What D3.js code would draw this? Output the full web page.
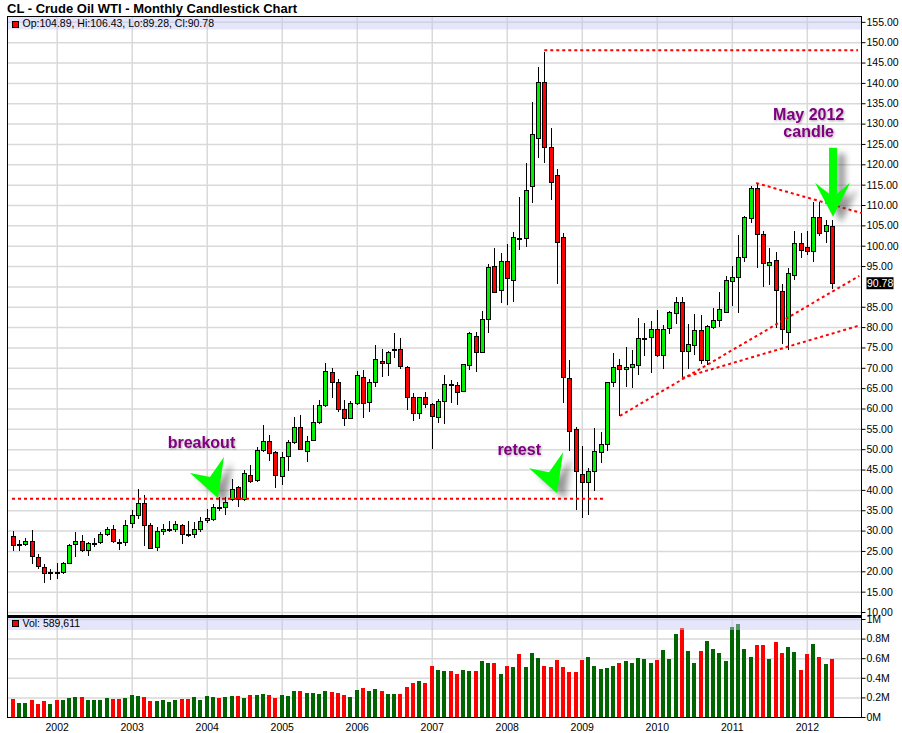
<!DOCTYPE html>
<html><head><meta charset="utf-8">
<script src="https://cdn.jsdelivr.net/npm/d3@7"></script>
<style>
body{margin:0;background:#fff}
svg{display:block}
text{font-family:"Liberation Sans",Arial,Helvetica,sans-serif}
</style>
</head><body>
<svg id="c" width="902" height="733"></svg>
<script>
// ---------------- DATA (monthly, Jun 2001 .. May 2012) ----------------
const firstYear = 2001, firstMonth = 6;
const opens = [
 28.7,26.4,26.7,27.4,23.4,21.1,19.6,
 19.8,19.75,22.0,26.7,27.4,25.3,27.0,27.2,29.1,30.5,27.1,27.1,
 31.8,33.8,36.7,31.3,26.0,29.8,30.3,30.5,31.3,29.0,29.1,30.4,
 32.6,32.9,35.9,35.7,37.8,40.7,37.8,43.7,42.4,49.8,52.0,49.2,
 43.4,48.3,51.8,55.4,49.5,52.3,56.6,60.8,68.9,66.6,59.8,57.6,
 61.3,67.8,61.7,66.4,71.7,71.3,74.3,74.5,70.3,62.9,58.8,62.9,
 61.0,57.9,61.8,66.0,65.7,64.4,70.7,77.8,74.0,81.9,95.1,89.0,
 96.2,91.6,102.0,101.9,114.7,126.4,140.3,124.2,117.3,102.1,67.4,54.9,
 43.8,41.9,44.6,49.2,51.2,66.6,70.6,69.6,70.1,70.6,77.2,77.5,
 79.6,73.1,79.9,83.4,86.2,74.1,75.5,79.3,71.9,80.0,81.7,83.8,
 91.4,92.2,97.2,106.7,114.1,102.8,95.2,96.5,88.8,78.8,92.7,100.6,
 99.8,98.6,107.0,103.5,104.89];
const highs = [
 30.0,27.7,28.3,30.1,24.3,21.9,20.5,
 22.1,22.2,26.6,29.7,28.8,27.3,28.3,29.7,31.0,31.3,27.9,32.7,
 35.0,40.1,38.7,31.8,30.9,31.6,32.4,32.3,31.7,32.4,32.0,33.3,
 35.2,36.6,38.2,38.2,42.6,41.0,44.8,46.0,50.6,55.9,53.5,49.6,
 49.3,52.2,57.8,58.4,53.3,60.9,62.1,71.2,69.9,67.3,62.1,61.9,
 69.3,69.5,67.3,75.6,74.5,74.2,78.5,77.2,70.4,63.9,62.6,64.0,
 61.3,62.3,68.2,67.0,66.6,71.0,78.8,78.8,84.0,95.4,99.4,98.3,
 100.4,103.4,112.0,120.2,135.4,144.0,147.7,129.0,118.9,103.0,71.9,55.5,
 50.8,45.5,55.1,54.3,66.6,73.7,72.1,75.2,74.4,82.2,81.1,81.5,
 84.2,80.5,83.9,87.5,87.5,80.8,83.1,82.9,80.6,84.6,88.7,92.5,
 95.0,102.6,107.3,114.7,115.5,103.5,99.4,98.4,90.5,94.5,103.6,103.0,
 103.5,110.8,110.8,106.3,106.43];
const lows = [
 25.1,25.1,26.1,21.8,20.5,17.2,17.8,
 18.1,19.3,21.7,23.5,24.7,23.8,25.9,26.6,28.6,26.9,25.2,26.3,
 30.6,32.9,26.3,25.5,25.1,28.8,29.6,29.7,26.7,28.5,28.2,29.6,
 31.8,32.4,34.8,33.8,37.2,35.8,37.2,41.6,42.0,49.2,47.0,40.4,
 41.3,44.7,51.4,49.8,46.9,52.0,56.2,60.3,62.5,59.2,55.7,57.3,
 60.8,57.6,59.2,65.3,67.8,68.0,72.5,69.8,59.6,57.0,57.3,60.2,
 50.0,56.4,56.3,61.4,60.9,64.0,69.5,68.9,73.9,78.5,88.5,86.0,
 85.4,86.2,98.9,99.6,110.4,121.6,120.4,111.2,90.6,61.4,49.5,35.1,
 33.0,33.8,39.7,46.7,49.5,65.2,58.2,65.2,65.0,68.2,72.9,68.7,
 72.6,69.6,78.4,80.8,67.4,69.6,73.1,70.9,70.8,79.5,80.1,83.6,
 85.2,83.5,96.0,105.5,94.6,89.8,90.3,79.7,75.8,74.4,91.5,96.9,
 97.7,96.0,102.4,100.7,89.28];
const closes = [
 26.4,26.6,27.4,23.7,21.2,19.5,19.8,
 19.6,22.0,26.4,27.4,25.3,26.9,27.05,29.1,30.5,27.4,26.9,31.3,
 33.8,36.7,31.3,25.7,29.9,30.3,30.5,31.6,29.2,29.1,30.5,32.4,
 33.0,35.9,35.7,37.0,40.2,37.7,44.1,42.3,49.8,52.0,49.1,43.7,
 48.2,51.8,55.5,50.0,52.1,56.6,60.8,69.2,66.4,59.8,57.6,61.3,
 68.2,61.4,66.6,72.1,71.3,74.0,74.5,70.4,62.9,58.8,62.9,61.2,
 58.2,61.8,65.9,65.8,64.1,70.9,78.5,74.0,81.9,94.7,88.7,96.2,
 92.0,102.1,101.8,113.7,127.4,140.1,124.2,115.6,100.9,67.8,54.5,44.7,
 41.9,44.7,49.6,51.2,66.4,70.1,69.6,70.1,70.9,77.3,77.4,79.5,
 73.1,79.6,83.8,86.2,74.1,75.8,79.3,71.9,80.3,81.7,84.4,91.6,
 92.4,97.2,107.0,114.1,102.8,95.7,95.9,89.0,79.5,93.2,100.6,98.9,
 98.6,107.1,103.0,105.0,90.78];
// volume in thousands of contracts
const volumes = [
 184,143,143,173,133,163,133,
 173,173,194,204,204,173,173,173,194,184,184,194,
 224,214,204,163,163,173,153,173,184,184,204,173,
 214,204,194,204,214,214,194,224,224,235,224,194,
 224,214,265,265,245,245,235,265,255,245,224,204,
 276,296,265,286,265,235,235,235,306,347,367,347,
 520,480,469,469,439,480,469,469,571,551,551,439,
 520,510,643,510,653,602,520,510,582,510,459,459,
 582,612,520,490,500,520,551,571,551,602,592,551,
 582,684,592,847,905,673,551,673,776,694,653,571,
 922,949,694,612,735,735,592,765,653,714,663,480,
 643,745,612,541,589.611];
const yearLabels = ["2002","2003","2004","2005","2006","2007","2008","2009","2010","2011","2012"];
const priceTicks = d3.range(10, 156, 5);
const volTicks = [0, 200, 400, 600, 800, 1000];
// annotation lines: [monthIndex, price] pairs
const supportLine = [[-0.15, 37.8], [94.4, 37.8]];
const topLine = [[85, 148.0], [135.2, 148.0]];
const upperTrend = [[118.9, 115.4], [135.8, 108.0]];
const steepTrend = [[97.1, 58.2], [135.4, 92.6]];
const flatTrend = [[107.05, 67.5], [135.2, 80.3]];

// ---------------- LAYOUT ----------------
const L = 7, R = 861.5, PT = 16.5, PB = 616, VB = 717;
const svg = d3.select("#c");
const x = d3.scaleLinear().domain([-0.95, 135.75]).range([L, R]);
const y = d3.scaleLinear().domain([10, 155]).range([612, 21.85]);
const yv = d3.scaleLinear().domain([0, 1000]).range([VB, 619]);
const yearIdx = yearLabels.map(s => (+s - firstYear) * 12 - (firstMonth - 1));
const n = closes.length;
const idx = d3.range(n);
const FS = 10.5;
const last = n - 1;
const fmt = d3.format(".2f");

const defs = svg.append("defs");
const sh = defs.append("filter").attr("id","ash").attr("x","-50%").attr("y","-50%").attr("width","200%").attr("height","200%");
sh.append("feGaussianBlur").attr("stdDeviation", 3);
const ts = defs.append("filter").attr("id","tsh").attr("x","-20%").attr("y","-40%").attr("width","140%").attr("height","180%");
ts.append("feGaussianBlur").attr("in","SourceAlpha").attr("stdDeviation",0.8).attr("result","b");
ts.append("feOffset").attr("in","b").attr("dx",1.2).attr("dy",1.2).attr("result","o");
ts.append("feComponentTransfer").attr("in","o").attr("result","o2").append("feFuncA").attr("type","linear").attr("slope",0.35);
const tm = ts.append("feMerge"); tm.append("feMergeNode").attr("in","o2"); tm.append("feMergeNode").attr("in","SourceGraphic");

// ---------------- GRID ----------------
const gridCol = "#d9d9d9";
svg.append("g").attr("transform", `translate(${R},0)`)
  .call(d3.axisLeft(y).tickValues(priceTicks).tickSize(R - L).tickFormat(""))
  .call(g => { g.select(".domain").remove(); g.selectAll("line").attr("stroke", gridCol).attr("stroke-width", 1.5); });
svg.append("g").attr("transform", `translate(${R},0)`)
  .call(d3.axisLeft(yv).tickValues(volTicks.slice(1)).tickSize(R - L).tickFormat(""))
  .call(g => { g.select(".domain").remove(); g.selectAll("line").attr("stroke", gridCol).attr("stroke-width", 1.5); });
svg.append("g").attr("transform", `translate(0,${VB})`)
  .call(d3.axisBottom(x).tickValues(yearIdx).tickSize(-(VB - PT)).tickFormat(""))
  .call(g => { g.select(".domain").remove(); g.selectAll("line").attr("stroke", gridCol).attr("stroke-width", 1.5); });

// ---------------- CANDLES ----------------
const cg = svg.append("g").attr("shape-rendering", "crispEdges");
idx.forEach(i => {
  const px = Math.round(x(i));
  cg.append("line").attr("x1", px + 0.5).attr("x2", px + 0.5)
    .attr("y1", y(highs[i])).attr("y2", y(lows[i])).attr("stroke", "#000").attr("stroke-width", 1);
  const top = Math.round(y(Math.max(opens[i], closes[i])));
  const bot = Math.round(y(Math.min(opens[i], closes[i])));
  const up = closes[i] >= opens[i];
  cg.append("rect").attr("x", px - 1.5).attr("y", top + 0.5)
    .attr("width", 4).attr("height", Math.max(1, bot - top))
    .attr("fill", up ? "#00ee00" : "#ff0000").attr("stroke", "#000").attr("stroke-width", 1);
});

// ---------------- VOLUME ----------------
const vg = svg.append("g").attr("shape-rendering", "crispEdges");
idx.forEach(i => {
  const px = Math.round(x(i));
  const prev = i === 0 ? opens[0] : closes[i - 1];
  const top = yv(volumes[i]);
  vg.append("rect").attr("x", px - 2).attr("y", top).attr("width", 4).attr("height", VB - top)
    .attr("fill", closes[i] >= prev ? "#006400" : "#ff0000");
});

// ---------------- LEGEND BANDS ----------------
svg.append("rect").attr("x", L).attr("y", PT).attr("width", R - L).attr("height", 13)
  .attr("fill", "#c8c8f5").attr("fill-opacity", 0.45);
svg.append("rect").attr("x", L).attr("y", 617.5).attr("width", R - L).attr("height", 12.5)
  .attr("fill", "#c8c8f5").attr("fill-opacity", 0.45);

// ---------------- BORDERS ----------------
const bg = svg.append("g").attr("stroke", "#000").attr("shape-rendering", "crispEdges");
bg.append("line").attr("x1", L).attr("x2", L).attr("y1", PT).attr("y2", VB);
bg.append("line").attr("x1", R).attr("x2", R).attr("y1", PT).attr("y2", VB);
bg.append("line").attr("x1", L).attr("x2", R).attr("y1", PT).attr("y2", PT);
bg.append("line").attr("x1", L).attr("x2", R).attr("y1", VB).attr("y2", VB);
bg.append("line").attr("x1", L).attr("x2", R).attr("y1", 616.5).attr("y2", 616.5).attr("stroke-width", 2.5);

// ---------------- DOTTED LINES ----------------
const line = d3.line().x(d => x(d[0])).y(d => y(d[1]));
[supportLine, topLine, upperTrend, steepTrend, flatTrend].forEach(l => {
  svg.append("path").attr("d", line(l)).attr("fill", "none").attr("stroke", "#ff0000")
    .attr("stroke-width", 2).attr("stroke-dasharray", "3,3");
});

// ---------------- ANNOTATIONS ----------------
const purple = "#800080";
function arrow(tx, ty, pts) {
  const p = "M" + pts.map(d => [tx + d[0], ty + d[1]].join(",")).join("L") + "Z";
  svg.append("path").attr("d", p).attr("transform", "translate(8,6)").attr("fill", "#444").attr("opacity", 0.55).attr("filter", "url(#ash)");
  svg.append("path").attr("d", p).attr("fill", "#00ff00");
}
const downArrow = [[-4,-69],[4,-69],[4,-23],[17,-34],[0,0],[-18,-34],[-4,-23]];
const headArrow = [[0,0],[-28,-25],[-8,-21],[6,-41]];
arrow(x(131.2), y(107.1), downArrow);
arrow(x(32.8), y(38.0), headArrow);
arrow(x(87.05), y(39.2), headArrow);

function note(txt, i, p, anchor) {
  svg.append("text").attr("x", x(i)).attr("y", y(p)).attr("text-anchor", anchor)
    .attr("font-size", 16).attr("font-weight", "bold").attr("fill", purple)
    .attr("filter", "url(#tsh)").text(txt);
}
note("May 2012", 127.3, 130.9, "middle");
note("candle", 127.3, 126.6, "middle");
note("breakout", 24.75, 50.2, "start");
note("retest", 77.5, 48.6, "start");

// ---------------- AXES LABELS ----------------
// price ticks hidden behind the last-price box are not labelled
const shownPriceTicks = priceTicks.filter(t => Math.abs(t - closes[last]) > 2.5);
svg.append("g").attr("transform", `translate(${R},0)`)
  .call(d3.axisRight(y).tickValues(shownPriceTicks).tickSize(4).tickPadding(1).tickFormat(d3.format(".2f")))
  .call(g => { g.select(".domain").remove(); g.selectAll("text").attr("font-size", FS).attr("font-family", null).attr("fill", "#000"); g.selectAll("line").attr("stroke", "#000"); });
svg.append("g").attr("transform", `translate(${R},0)`)
  .call(d3.axisRight(yv).tickValues(volTicks).tickSize(4).tickPadding(1)
    .tickFormat(v => v === 0 ? "0M" : v === 1000 ? "1M" : (v / 1000) + "M"))
  .call(g => { g.select(".domain").remove(); g.selectAll("text").attr("font-size", FS).attr("font-family", null).attr("fill", "#000"); g.selectAll("line").attr("stroke", "#000"); });
svg.append("g").attr("transform", `translate(0,${VB})`)
  .call(d3.axisBottom(x).tickValues(yearIdx).tickSize(0).tickPadding(6.5).tickFormat((d, k) => yearLabels[k]))
  .call(g => { g.select(".domain").remove(); g.selectAll("text").attr("font-size", FS).attr("font-family", null).attr("fill", "#000"); });

// last price box
const ly = y(closes[last]);
svg.append("rect").attr("x", R + 5).attr("y", ly - 6).attr("width", 27).attr("height", 12).attr("fill", "#000");
svg.append("text").attr("x", R + 5.5).attr("y", ly).attr("dy", "0.35em").attr("font-size", FS).attr("fill", "#fff").text(fmt(closes[last]));

// ---------------- TITLE & LEGENDS ----------------
svg.append("text").attr("x", 7).attr("y", 13).attr("font-size", 13).attr("font-weight", "bold").attr("fill", "#000")
  .text("CL - Crude Oil WTI - Monthly Candlestick Chart");
svg.append("rect").attr("x", 12.5).attr("y", 21).attr("width", 6).attr("height", 6).attr("fill", "#ff0000").attr("stroke", "#000").attr("shape-rendering","crispEdges");
svg.append("text").attr("x", 22.5).attr("y", 27).attr("font-size", FS).attr("fill", "#000")
  .text(`Op:${fmt(opens[last])}, Hi:${fmt(highs[last])}, Lo:${fmt(lows[last])}, Cl:${fmt(closes[last])}`);
svg.append("rect").attr("x", 12.5).attr("y", 620.5).attr("width", 6).attr("height", 6).attr("fill", "#ff0000").attr("stroke", "#000").attr("shape-rendering","crispEdges");
svg.append("text").attr("x", 22.5).attr("y", 627).attr("font-size", FS).attr("fill", "#000")
  .text("Vol: " + d3.format(",")(Math.round(volumes[last] * 1000)));
</script>
</body></html>
